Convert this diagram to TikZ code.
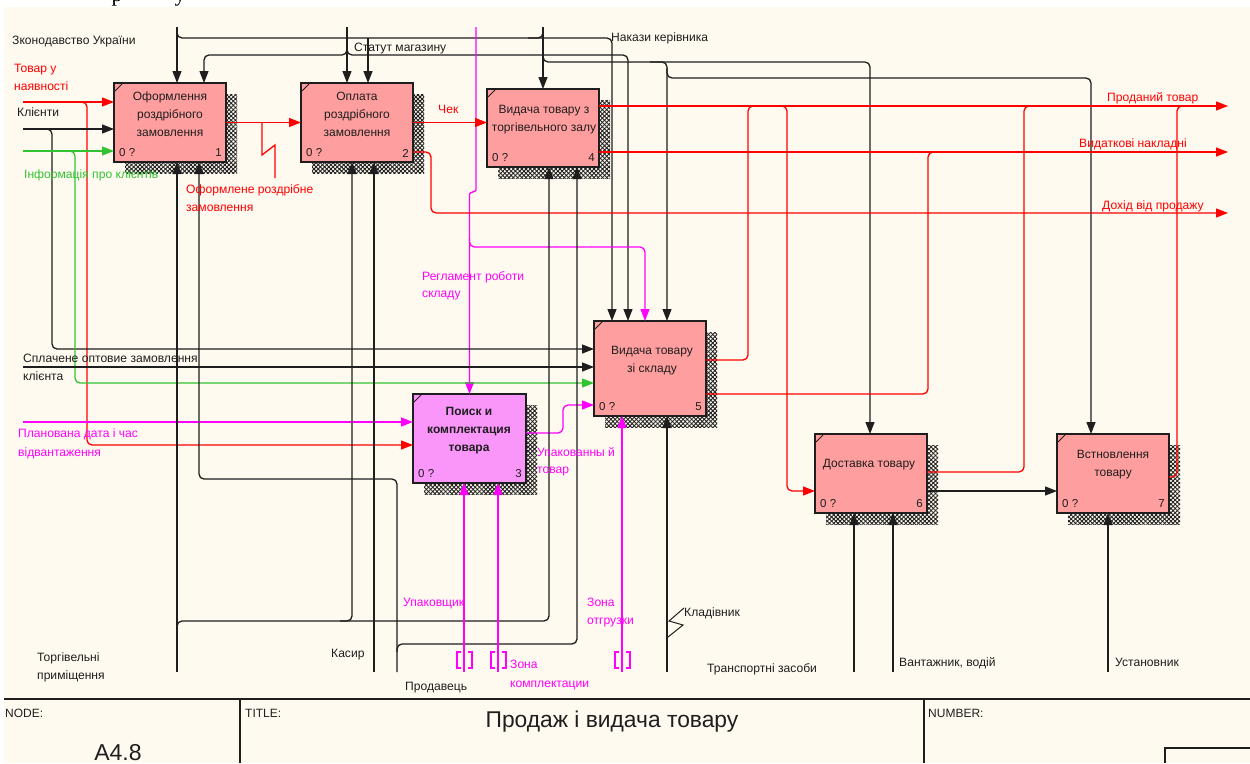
\documentclass[tikz,border=0pt]{standalone}
\usepackage{fontspec}
\setmainfont{Liberation Sans}
\newfontfamily\headserif{Liberation Serif}
\usetikzlibrary{arrows.meta,patterns.meta,calc}

\definecolor{paper}{RGB}{255,250,240}
\definecolor{fnred}{RGB}{255,158,158}
\definecolor{fnmag}{RGB}{250,150,250}
\definecolor{ink}{RGB}{30,30,30}
\definecolor{ared}{RGB}{255,0,0}
\definecolor{agreen}{RGB}{50,195,50}
\definecolor{amag}{RGB}{255,0,255}

% hatched drop shadow of a function box
\newcommand\hatchshadow[2]{%
  \fill[pattern={Lines[angle=45,distance=3pt,line width=0.9pt]},pattern color=ink] #1 rectangle #2;
  \fill[pattern={Lines[angle=-45,distance=3pt,line width=0.9pt]},pattern color=ink] #1 rectangle #2;}

% corner tick, "0 ?" and box number
\newcommand\boxmarks[2]{%
  \draw[ink,line width=0.8pt] ($(#1.north west)+(1,8)$) -- ($(#1.north west)+(8,1)$);
  \node[small,anchor=west] (#1z) at ($(#1.south west)+(5,-9)$) {0 ?};
  \node[small,anchor=east] (#1n) at ($(#1.south east)+(-4,-9)$) {#2};}

\begin{document}
\begin{tikzpicture}[x=1pt,y=-1pt,
  conn/.style={line width=1.3pt,rounded corners=5pt},
  tip/.style={-{Triangle[length=12pt,width=9pt]}},
  kline/.style={conn,draw=ink},
  rline/.style={conn,draw=ared},
  gline/.style={conn,draw=agreen},
  mline/.style={conn,draw=amag},
  fn/.style={draw=ink,line width=1.3pt,fill=fnred,minimum width=112pt,minimum height=79pt,
    anchor=north west,inner sep=0pt,outer sep=0pt},
  fntext/.style={font=\fontsize{12}{18}\selectfont,align=center,text=ink,inner sep=0pt},
  small/.style={font=\fontsize{11.5}{14}\selectfont,text=ink,inner sep=0pt},
  lab/.style={font=\fontsize{12.1}{14}\selectfont,anchor=base west,inner sep=0pt,text=ink},
  blk/.style={font=\fontsize{12}{13}\selectfont,anchor=base west,inner sep=0pt,text=ink},
  bracket/.style={draw=amag,line width=1.3pt}
]
\useasboundingbox (0,0) rectangle (1250,763);
\fill[white] (0,0) rectangle (1250,763);
\fill[paper] (4,7) rectangle (1250,763);

% heading fragments above the sheet
\begin{scope}
  \clip (0,0) rectangle (1250,7);
  \node[font=\headserif\fontsize{22}{24}\selectfont,anchor=base,inner sep=0pt] (hr) at (117,1) {р};
  \node[font=\headserif\fontsize{22}{24}\selectfont,anchor=base,inner sep=0pt] (hu) at (180,1) {у};
\end{scope}

% shadows
\hatchshadow{(125,94)}{(237,173)}
\hatchshadow{(312,94)}{(424,173)}
\hatchshadow{(498,100)}{(610,178)}
\hatchshadow{(424,405)}{(537,494)}
\hatchshadow{(605,332)}{(717,427)}
\hatchshadow{(826,445)}{(938,524)}
\hatchshadow{(1068,445)}{(1180,524)}

% function boxes
\node[fn] (b1) at (114,83) {};
\node[fn] (b2) at (301,83) {};
\node[fn,minimum height=78pt] (b4) at (487,89) {};
\node[fn,fill=fnmag,minimum width=113pt,minimum height=89pt] (b3) at (413,394) {};
\node[fn,minimum height=95pt] (b5) at (594,321) {};
\node[fn] (b6) at (815,434) {};
\node[fn] (b7) at (1057,434) {};

\node[fntext] (t1) at (170,114) {Оформлення\\роздрібного\\замовлення};
\node[fntext] (t2) at (357,114) {Оплата\\роздрібного\\замовлення};
\node[fntext] (t4) at (544,120) {Видача товару з\\торгівельного залу};
\node[fntext,font=\bfseries\fontsize{12}{18}\selectfont] (t3) at (469,431) {Поиск и\\комплектация\\товара};
\node[fntext] (t5) at (652,361) {Видача товару\\ зі складу};
\node[fntext] (t6) at (869,465) {Доставка товару};
\node[fntext] (t7) at (1113,465) {Встновлення\\товару};

\boxmarks{b1}{1}
\boxmarks{b2}{2}
\boxmarks{b3}{3}
\boxmarks{b4}{4}
\boxmarks{b5}{5}
\boxmarks{b6}{6}
\boxmarks{b7}{7}

% controls entering from the top edge
\coordinate (zTop) at (177,27);
\coordinate (sTop) at (347,27);
\coordinate (nTop) at (543,27);
\coordinate (rTop) at (476,27);
\draw[kline,tip] (zTop) -- (zTop |- b1.north);
\draw[kline,tip] (177,30) |- (612,38) -- (612,38 |- b5.north);
\draw[kline,tip] (368,38) -- (368,38 |- b2.north);
\draw[kline,tip] (sTop) -- (sTop |- b2.north);
\draw[kline,tip] (347,44) |- (204,55) -- (204,55 |- b1.north);
\draw[kline,tip] (347,44) |- (628,55) -- (628,55 |- b5.north);
\draw[kline,tip] (nTop) -- (nTop |- b4.north);
\draw[kline] (nTop) |- (528,38);
\draw[kline,tip] (543,50) |- (870,62) -- (870,62 |- b6.north);
\draw[kline,tip] (650,62) -| (667,62 |- b5.north);
\draw[kline,tip] (667,68) |- (1091,78) -- (1091,78 |- b7.north);
\draw[mline,tip] (rTop) -- (476,185) .. controls (476,192) and (469.5,192) .. (469.5,199) -- (b3.north);
\draw[mline,tip] (469.5,238) |- (645,247) -- (645,247 |- b5.north);

% inputs from the left edge
\coordinate (iTov) at (23,102);
\coordinate (iKl) at (23,129);
\coordinate (iInf) at (23,151);
\coordinate (iOpt) at (23,367);
\coordinate (iPlan) at (23,422);
\draw[rline,tip] (iTov) -- (iTov -| b1.west);
\draw[rline,tip] (79,102) -| (87,445) -- (87,445 -| b3.west);
\draw[kline,tip] (iKl) -- (iKl -| b1.west);
\draw[kline,tip] (44,129) -| (52,349) -- (52,349 -| b5.west);
\draw[gline,tip] (iInf) -- (iInf -| b1.west);
\draw[gline,tip] (67,151) -| (75,383) -- (75,383 -| b5.west);
\draw[kline,tip] (iOpt) -- (iOpt -| b5.west);
\draw[mline,tip] (iPlan) -- (iPlan -| b3.west);

% links between the boxes and outputs
\coordinate (oProd) at (1228,106);
\coordinate (oVyd) at (1228,152);
\coordinate (oDoh) at (1228,213);
\draw[rline,tip] (b1.east) -- (b2.west);
\draw[rline,sharp corners] (262,122) -- (262,155) -- (275,145) -- (275,178);
\draw[rline,tip] (b2.east) -- (b2.east -| b4.west);
\draw[rline,tip] (b2.east |- 0,152) -| (431,213) -- (oDoh);
\draw[rline,tip] (b4.east |- oProd) -- (oProd);
\draw[rline,tip] (b4.east |- oVyd) -- (oVyd);
\draw[rline] (b5.east |- 0,360) -| (748,106) -- (756,106);
\draw[rline,tip] (779,106) -| (787,491) -- (787,491 -| b6.west);
\draw[rline] (b5.east |- 0,394) -| (928,152) -- (936,152);
\draw[rline] (b6.east |- 0,472) -| (1024,106) -- (1032,106);
\draw[rline] (b7.east |- 0,477) -| (1177,106) -- (1185,106);
\draw[kline,tip] (b6.east |- 0,491) -- (b7.west |- 0,491);
\draw[mline,tip] (b3.east |- 0,433) -| (563,405) -- (563,405 -| b5.west);

% mechanisms from the bottom edge
\coordinate (mTorg) at (177,672);
\coordinate (mKas) at (374,672);
\coordinate (mProd) at (397,672);
\draw[kline,tip] (mTorg) -- (mTorg |- b1.south);
\draw[kline,tip] (177,630) |- (352,621) -- (352,621 |- b2.south);
\draw[kline,tip] (340,621) -| (549,621 |- b4.south);
\draw[kline,tip] (mKas) -- (mKas |- b2.south);
\draw[kline,tip] (mProd) |- (199,479) -- (199,479 |- b1.south);
\draw[kline,tip] (397,652) |- (577,644) -- (577,644 |- b4.south);
\draw[mline,tip] (464,672) -- (464,672 |- b3.south);
\draw[mline,tip] (498,672) -- (498,672 |- b3.south);
\draw[mline,tip] (622,672) -- (622,672 |- b5.south);
\draw[kline,tip] (667,672) -- (667,672 |- b5.south);
\draw[kline,tip] (854,672) -- (854,672 |- b6.south);
\draw[kline,tip] (893,672) -- (893,672 |- b6.south);
\draw[kline,tip] (1108,672) -- (1108,672 |- b7.south);
\draw[kline,sharp corners,line width=1pt] (684,608) -- (669,621) -- (683,625) -- (668,637);

% tunnel brackets
\foreach \bx in {464,498,622}{
  \draw[bracket] (\bx-3,652) -- (\bx-7,652) -- (\bx-7,668) -- (\bx-3,668);
  \draw[bracket] (\bx+4,652) -- (\bx+8,652) -- (\bx+8,668) -- (\bx+4,668);
}

% arrow labels
\node[lab] (lZak) at (12,44) {Зконодавство України};
\node[lab,text=ared] (lTov1) at (14,72) {Товар у};
\node[lab,text=ared] (lTov2) at (14,90) {наявності};
\node[lab] (lKl) at (17,116) {Клієнти};
\node[lab,text=agreen] (lInf) at (24,178) {Інформація про клієнтів};
\node[lab,text=ared] (lOf1) at (186,193) {Оформлене роздрібне};
\node[lab,text=ared] (lOf2) at (186,211) {замовлення};
\node[lab] (lStat) at (354,51) {Статут магазину};
\node[lab] (lNak) at (611,41) {Накази керівника};
\node[lab,text=ared] (lChek) at (438,113) {Чек};
\node[lab,text=ared] (lProd) at (1107,101) {Проданий товар};
\node[lab,text=ared] (lVyd) at (1079,147) {Видаткові накладні};
\node[lab,text=ared] (lDoh) at (1102,209) {Дохід від продажу};
\node[lab,text=amag] (lReg1) at (422,280) {Регламент роботи};
\node[lab,text=amag] (lReg2) at (422,297) {складу};
\node[lab] (lOpt1) at (23,362) {Сплачене оптовие замовлення};
\node[lab] (lOpt2) at (23,380) {клієнта};
\node[lab,text=amag] (lPl1) at (18,437) {Планована дата і час};
\node[lab,text=amag] (lPl2) at (18,456) {відвантаження};
\node[lab,text=amag] (lUp1) at (537,456) {Упакованны й};
\node[lab,text=amag] (lUp2) at (537,473) {товар};
\node[lab,text=amag] (lUpk) at (403,606) {Упаковщик};
\node[lab,text=amag] (lZo1) at (587,606) {Зона};
\node[lab,text=amag] (lZo2) at (587,624) {отгрузки};
\node[lab] (lKlad) at (684,616) {Кладівник};
\node[lab] (lTor1) at (37,661) {Торгівельні};
\node[lab] (lTor2) at (37,679) {приміщення};
\node[lab] (lKas) at (331,657) {Касир};
\node[lab] (lPrv) at (405,690) {Продавець};
\node[lab,text=amag] (lZk1) at (510,668) {Зона};
\node[lab,text=amag] (lZk2) at (510,687) {комплектации};
\node[lab] (lTrans) at (707,672) {Транспортні засоби};
\node[lab] (lVan) at (899,666) {Вантажник, водій};
\node[lab] (lUst) at (1115,666) {Установник};

% title block
\draw[ink,line width=1.3pt] (4,699) -- (1250,699);
\draw[ink,line width=1.3pt] (240,699) -- (240,763);
\draw[ink,line width=1.3pt] (924,699) -- (924,763);
\draw[ink,line width=1.3pt] (1165,763) -- (1165,748) -- (1250,748);
\node[blk] (fNode) at (5,717) {NODE:};
\node[blk] (fTitle) at (245,717) {TITLE:};
\node[blk] (fNum) at (928,717) {NUMBER:};
\node[font=\fontsize{23}{26}\selectfont,anchor=base,inner sep=0pt,text=ink] (fA) at (118,760) {A4.8};
\node[font=\fontsize{22.8}{26}\selectfont,anchor=base,inner sep=0pt,text=ink] (fName) at (612,727) {Продаж і видача товару};
\end{tikzpicture}
\end{document}
